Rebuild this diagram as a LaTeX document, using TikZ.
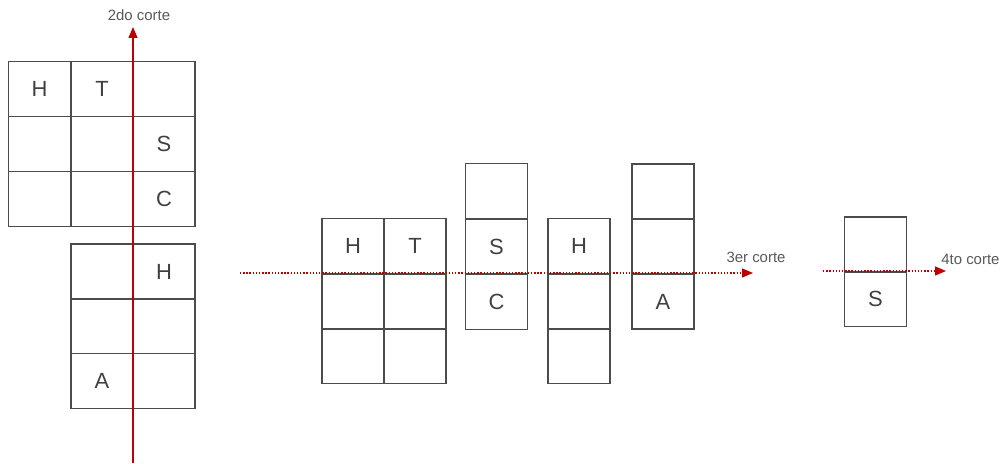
\documentclass[tikz,border=0pt]{standalone}
\usepackage{fontspec}
\setmainfont{Liberation Sans}
\usetikzlibrary{arrows.meta}

\begin{document}
\begin{tikzpicture}[
    x=0.02cm, y=-0.02cm,
    cell/.style={draw=black!70, line width=1pt, minimum width=1.24cm,
      minimum height=1.1cm, inner sep=0pt, outer sep=0pt,
      font=\fontsize{12.5}{14}\selectfont, text=black!75},
    cut/.style={red!75!black, line width=0.8pt,
      -{Triangle[length=2.2mm, width=1.8mm]}},
    cutlabel/.style={font=\fontsize{8.5}{10}\selectfont, text=black!65,
      inner sep=0pt},
  ]
    \useasboundingbox (0,0) rectangle (1006,463);
    % grid top left
    \node[cell] (a11) at (39.5,89)  {H};
    \node[cell] (a12) at (102,89)   {T};
    \node[cell] (a13) at (164,89)   {};
    \node[cell] (a21) at (39.5,144) {};
    \node[cell] (a22) at (102,144)  {};
    \node[cell] (a23) at (164,144)  {S};
    \node[cell] (a31) at (39.5,199) {};
    \node[cell] (a32) at (102,199)  {};
    \node[cell] (a33) at (164,199)  {C};
    % grid bottom left
    \node[cell] (b11) at (102,271.5) {};
    \node[cell] (b12) at (164,271.5) {H};
    \node[cell] (b21) at (102,326)   {};
    \node[cell] (b22) at (164,326)   {};
    \node[cell] (b31) at (102,381)   {A};
    \node[cell] (b32) at (164,381)   {};
    % second cut
    \coordinate (c2s) at (133,463);
    \coordinate (c2e) at (133,27);
    \draw[cut] (c2s) -- (c2e);
    \node[cutlabel] (l2) at (139,15) {2do corte};
    % block H T
    \node[cell] (h11) at (353,246)   {H};
    \node[cell] (h12) at (415,246)   {T};
    \node[cell] (h21) at (353,301.5) {};
    \node[cell] (h22) at (415,301.5) {};
    \node[cell] (h31) at (353,356)   {};
    \node[cell] (h32) at (415,356)   {};
    % column S C
    \node[cell] (s1) at (496.5,191)   {};
    \node[cell] (s2) at (496.5,246.5) {S};
    \node[cell] (s3) at (496.5,302)   {C};
    % column H
    \node[cell] (k1) at (579,246) {H};
    \node[cell] (k2) at (579,302) {};
    \node[cell] (k3) at (579,356) {};
    % column A
    \node[cell] (m1) at (663,191.5) {};
    \node[cell] (m2) at (663,246)   {};
    \node[cell] (m3) at (663,301.5) {A};
    % third cut
    \coordinate (c3s) at (240,273);
    \coordinate (c3e) at (753,273);
    \draw[cut, densely dotted] (c3s) -- (c3e);
    \node[cutlabel] (l3) at (756,257) {3er corte};
    % single S box
    \node[cell] (t1) at (875.5,244.5) {};
    \node[cell] (t2) at (875.5,299)   {S};
    % fourth cut
    \coordinate (c4s) at (823,271);
    \coordinate (c4e) at (946,271);
    \draw[cut, densely dotted] (c4s) -- (c4e);
    \node[cutlabel, anchor=west] (l4) at (941,259) {4to corte};
\end{tikzpicture}
\end{document}
